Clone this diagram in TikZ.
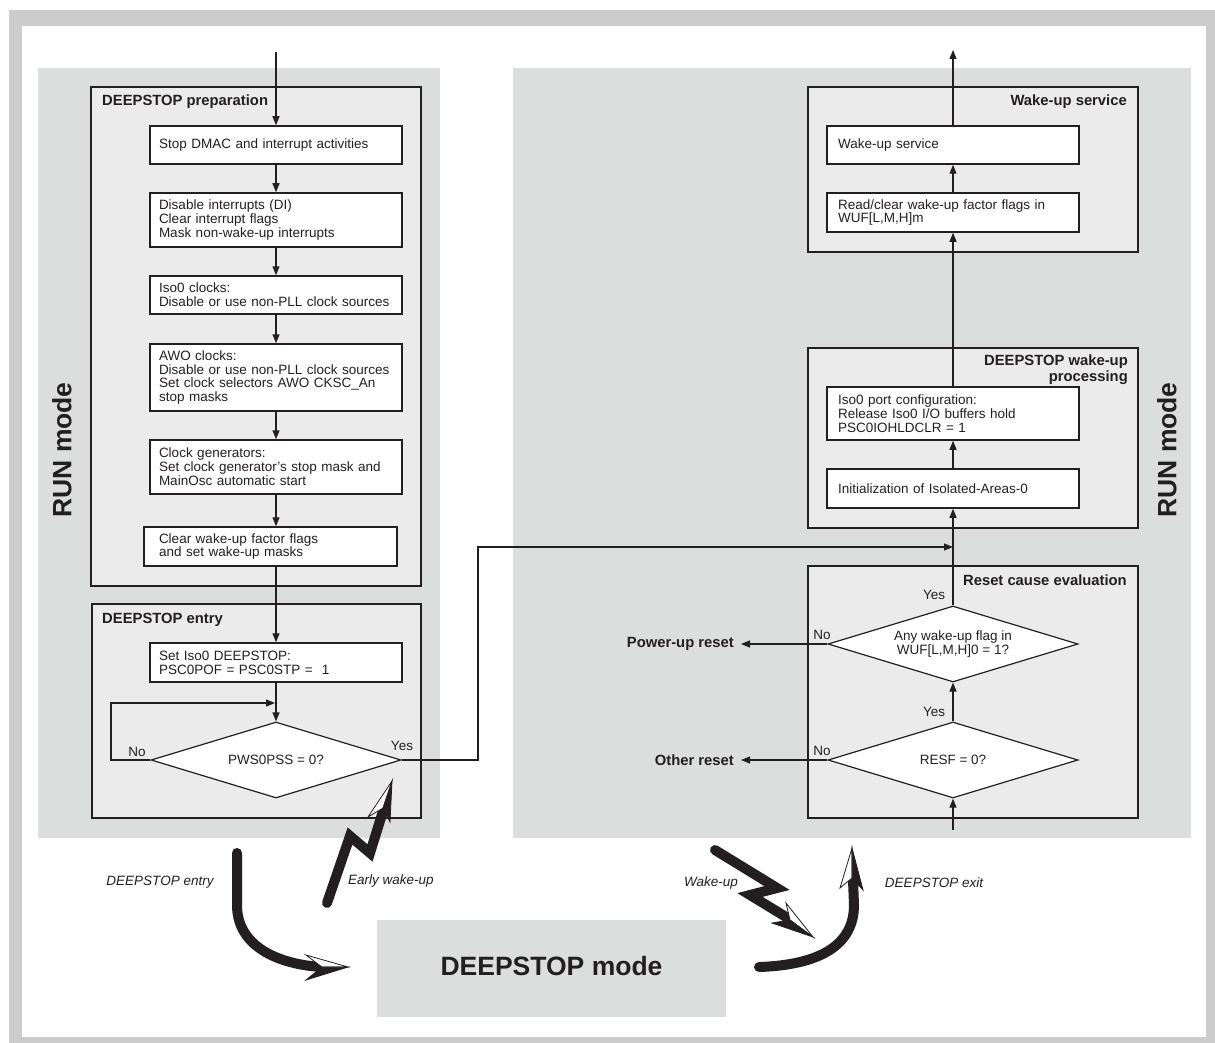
\documentclass[tikz,border=0pt]{standalone}
\usepackage{fontspec}
\setmainfont{Liberation Sans}
\usetikzlibrary{shapes.geometric,arrows.meta}
\definecolor{frameg}{HTML}{CCCCCC}
\definecolor{panelg}{HTML}{DCDDDD}
\definecolor{boxg}{HTML}{EBEBEC}
\definecolor{ink}{HTML}{231F20}
\newcommand\myBody{\fontsize{13.5}{13.9}\selectfont}
\newcommand\myTitle{\fontsize{14.8}{16}\selectfont\bfseries}
\newcommand\myBig{\fontsize{26.5}{28}\selectfont\bfseries}
\newcommand\myHead[4]{%
  \fill[ink] (#2) -- (#1) -- (#4) -- cycle;
  \filldraw[fill=white,draw=ink,line width=0.8pt] (#2) -- (#1) -- (#3) -- cycle;
  \draw[ink,line width=0.8pt] (#2) -- (#1) -- (#4) -- cycle;}
\begin{document}
\begin{tikzpicture}[x=1pt,y=-1pt,
  panel/.style={fill=panelg,draw=none},
  container/.style={fill=boxg,draw=ink,line width=1.2pt},
  box/.style={rectangle,draw=ink,fill=white,line width=1.5pt,minimum width=252pt,
    text width=242pt,inner xsep=5pt,inner ysep=0pt,align=left,font=\myBody,text=ink},
  dia/.style={diamond,draw=ink,fill=white,line width=1.2pt,shape aspect=3.3,
    minimum width=250pt,minimum height=76pt,inner sep=0pt,align=center,font=\myBody,text=ink},
  conn/.style={draw=ink,line width=1.2pt,-{Triangle[length=9pt,width=7pt]}},
  ttl/.style={font=\myTitle,inner sep=0pt,text=ink},
  lbl/.style={font=\myBody,inner sep=0pt,text=ink},
  ital/.style={font=\myBody\itshape,inner sep=0pt,text=ink},
  bigshaft/.style={draw=ink,line width=10pt,line cap=round,line join=miter,miter limit=3}]
\useasboundingbox (0,0) rectangle (1215,1043);
% frame
\fill[white] (0,0) rectangle (1215,1043);
\fill[frameg] (9,10) rectangle (1215,1043);
\fill[white] (22,26) rectangle (1206,1037);
% panels
\fill[panel] (38,68) rectangle (440,838);
\fill[panel] (513,68) rectangle (1191,838);
\node[font=\myBig,rotate=90,text=ink] (runL) at (62,450) {RUN mode};
\node[font=\myBig,rotate=90,text=ink] (runR) at (1167,450) {RUN mode};
% containers
\draw[container] (91,87) rectangle (421,586);
\draw[container] (92,604) rectangle (421,818);
\draw[container] (808,87) rectangle (1138,252);
\draw[container] (808,348) rectangle (1138,528);
\draw[container] (808,566) rectangle (1138,818);
\node[ttl,anchor=west] (tprep) at (102,102) {DEEPSTOP preparation};
\node[ttl,anchor=west] (tentry) at (102,620) {DEEPSTOP entry};
\node[ttl,anchor=east] (tws) at (1127,102) {Wake-up service};
\node[ttl,anchor=north east,align=right] (twp) at (1128,355) {DEEPSTOP wake-up\\processing};
\node[ttl,anchor=east] (trce) at (1127,580) {Reset cause evaluation};
% left boxes
\node[box,minimum height=38pt] (b1) at (276,145) {\hspace*{4pt}Stop DMAC and interrupt activities};
\node[box,minimum height=54pt] (b2) at (276,220) {\hspace*{4pt}Disable interrupts (DI)\\\hspace*{4pt}Clear interrupt flags\\\hspace*{4pt}Mask non-wake-up interrupts};
\node[box,minimum height=38pt] (b3) at (276,295) {\hspace*{4pt}Iso0 clocks:\\\hspace*{4pt}Disable or use non-PLL clock sources};
\node[box,minimum height=67pt] (b4) at (276,377.5) {\hspace*{4pt}AWO clocks:\\\hspace*{4pt}Disable or use non-PLL clock sources\\\hspace*{4pt}Set clock selectors AWO CKSC\_An\\\hspace*{4pt}stop masks};
\node[box,minimum height=54pt] (b5) at (276,467) {\hspace*{4pt}Clock generators:\\\hspace*{4pt}Set clock generator's stop mask and\\\hspace*{4pt}MainOsc automatic start};
\node[box,minimum height=39pt,minimum width=253pt,text width=243pt] (b6) at (270.5,546.5) {\hspace*{10pt}Clear wake-up factor flags\\\hspace*{10pt}and set wake-up masks};
\node[box,minimum height=39pt] (b7) at (276,662.5) {\hspace*{4pt}Set Iso0 DEEPSTOP:\\\hspace*{4pt}PSC0POF = PSC0STP =\ \ 1};
\node[dia] (dpws) at (276,760) {PWS0PSS = 0?};
\node[lbl] (lno1) at (137,752) {No};
\node[lbl] (lyes1) at (402,746) {Yes};
% right boxes
\node[box,minimum height=38pt] (r1) at (953,145) {\hspace*{6pt}Wake-up service};
\node[box,minimum height=39pt] (r2) at (953,212.5) {\hspace*{6pt}Read/clear wake-up factor flags in\\\hspace*{6pt}WUF[L,M,H]m};
\node[box,minimum height=53pt] (r3) at (953,413.5) {\hspace*{6pt}Iso0 port configuration:\\\hspace*{6pt}Release Iso0 I/O buffers hold\\\hspace*{6pt}PSC0IOHLDCLR = 1};
\node[box,minimum height=39pt] (r4) at (953,488.5) {\hspace*{6pt}Initialization of Isolated-Areas-0};
\node[dia] (dwuf) at (953,644) {Any wake-up flag in\\WUF[L,M,H]0 = 1?};
\node[dia] (dresf) at (953,760) {RESF = 0?};
\node[lbl] (lyes2) at (934,595) {Yes};
\node[lbl] (lyes3) at (934,712) {Yes};
\node[lbl] (lno2) at (822,635) {No};
\node[lbl] (lno3) at (822,751) {No};
\node[ttl,anchor=east,inner xsep=7pt] (pur) at (741,644) {Power-up reset};
\node[ttl,anchor=east,inner xsep=7pt] (oth) at (741,760) {Other reset};
% coordinates
\coordinate (topin) at (276,52);
\coordinate (topout) at (953,50);
\coordinate (botin) at (953,830);
\coordinate (loopc) at (111,760);
\coordinate (loopend) at (275,703);
\coordinate (yesc) at (478,760);
\coordinate (joinpt) at (953,547);
% left connectors
\draw[conn] (topin) -- (b1.north);
\draw[conn] (b1) -- (b2);
\draw[conn] (b2) -- (b3);
\draw[conn] (b3) -- (b4);
\draw[conn] (b4) -- (b5);
\draw[conn] (b5.south) -- (b5.south |- b6.north);
\draw[conn] (b5.south |- b6.south) -- (b7.north);
\draw[conn] (b7) -- (dpws);
\draw[conn] (dpws.west) -- (loopc) |- (loopend);
\draw[conn] (dpws.east) -- (yesc) |- (joinpt);
% right connectors
\draw[conn] (botin) -- (dresf.south);
\draw[conn] (dresf) -- (dwuf);
\draw[conn] (dwuf.north) -- (r4.south);
\draw[conn] (r4) -- (r3);
\draw[conn] (r3) -- (r2);
\draw[conn] (r2) -- (r1);
\draw[conn] (r1.north) -- (topout);
\draw[conn] (dwuf.west) -- (pur.east);
\draw[conn] (dresf.west) -- (oth.east);
% DEEPSTOP mode
\fill[panelg] (377,920) rectangle (726,1017);
\node[font=\myBig,text=ink] (dsm) at (551.5,966) {DEEPSTOP mode};
% big arrows
\draw[bigshaft] (237,853) -- (237,905) .. controls (237,950) and (285,965) .. (322,967);
\myHead{348,967}{322,967}{306,955}{306,980}
\draw[bigshaft] (327,903) -- (350,836) -- (370,853) -- (384,808);
\myHead{392,781}{383,808}{368,817}{390,822}
\draw[bigshaft] (715,850) -- (777,888) -- (750,895) -- (791,920);
\myHead{813,937}{790,920}{786,903}{772,923}
\draw[bigshaft] (759,967) .. controls (820,965) and (854,945) .. (854,905) -- (853,880);
\myHead{852,848}{852,878}{840,888}{863,890}
\node[ital] (ldse) at (160,882) {DEEPSTOP entry};
\node[ital] (lew) at (391,881) {Early wake-up};
\node[ital] (lwu) at (711,883) {Wake-up};
\node[ital] (ldsx) at (934,883) {DEEPSTOP exit};
\end{tikzpicture}
\end{document}
